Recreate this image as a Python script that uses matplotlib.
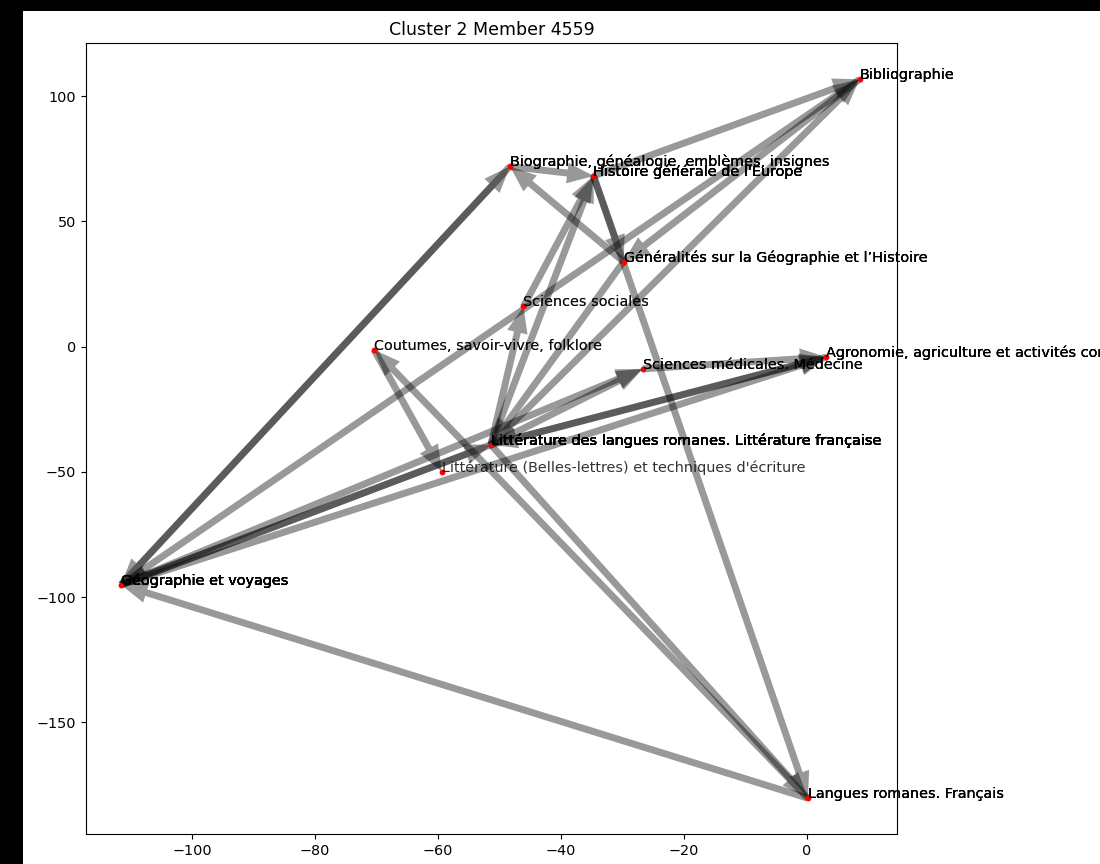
import matplotlib
matplotlib.use("Agg")
import matplotlib.pyplot as plt
from matplotlib.patches import Rectangle

# ---- data ----
node_labels = [
    "Bibliographie",
    "Biographie, généalogie, emblèmes, insignes",
    "Histoire générale de l'Europe",
    "Généralités sur la Géographie et l’Histoire",
    "Sciences sociales",
    "Coutumes, savoir-vivre, folklore",
    "Sciences médicales. Médecine",
    "Agronomie, agriculture et activités connexes",
    "Littérature des langues romanes. Littérature française",
    "Littérature (Belles-lettres) et techniques d'écriture",
    "Géographie et voyages",
    "Langues romanes. Français",
]
node_x = [8.6, -48.3, -34.7, -29.8, -46.1, -70.4, -26.7, 3.2, -51.4, -59.4, -111.6, 0.2]
node_y = [106.7, 71.9, 68.1, 33.9, 16.0, -1.3, -8.9, -4.2, -39.2, -49.9, -95.1, -180.3]

# edges as (source index, target index)
edge_src = [10, 1, 10, 8, 10, 10, 10, 11, 1, 3, 2, 2, 2, 8, 4, 8, 8, 0, 3, 8, 8, 7, 6, 8, 11, 5]
edge_dst = [1, 10, 8, 10, 0, 6, 7, 10, 2, 1, 0, 3, 11, 2, 2, 4, 0, 3, 8, 6, 7, 8, 7, 11, 5, 9]

title = "Cluster 2 Member 4559"
xticks = [-100, -80, -60, -40, -20, 0]
yticks = [-150, -100, -50, 0, 50, 100]

# ---- figure ----
W, H, DPI = 1100, 864, 100
fig = plt.figure(figsize=(W / DPI, H / DPI), dpi=DPI, facecolor="black")
fig.patches.append(Rectangle((23 / W, 0), 1 - 23 / W, 1 - 11 / H,
                             transform=fig.transFigure, facecolor="white",
                             edgecolor="none", zorder=-10))
ax = fig.add_axes([86 / W, 1 - 834 / H, (897 - 86) / W, (834 - 43) / H])

for s, t in zip(edge_src, edge_dst):
    ax.annotate("", xy=(node_x[t], node_y[t]), xytext=(node_x[s], node_y[s]),
                arrowprops=dict(facecolor="black", edgecolor="none", alpha=0.4,
                                width=5, headwidth=15, headlength=19, shrink=0))
    for n in (s, t):
        ax.text(node_x[n], node_y[n], node_labels[n], fontsize=10.4,
                color="black", alpha=0.8, zorder=4)

ax.scatter(node_x, node_y, s=10, color="red", zorder=3)

ax.set_xlim(-117.3, 14.7)
ax.set_ylim(-194.6, 121.2)
ax.set_xticks(xticks)
ax.set_yticks(yticks)
ax.tick_params(labelsize=10.4)
ax.set_title(title, fontsize=12.5)

fig.savefig("out.png", dpi=DPI, facecolor=fig.get_facecolor())
